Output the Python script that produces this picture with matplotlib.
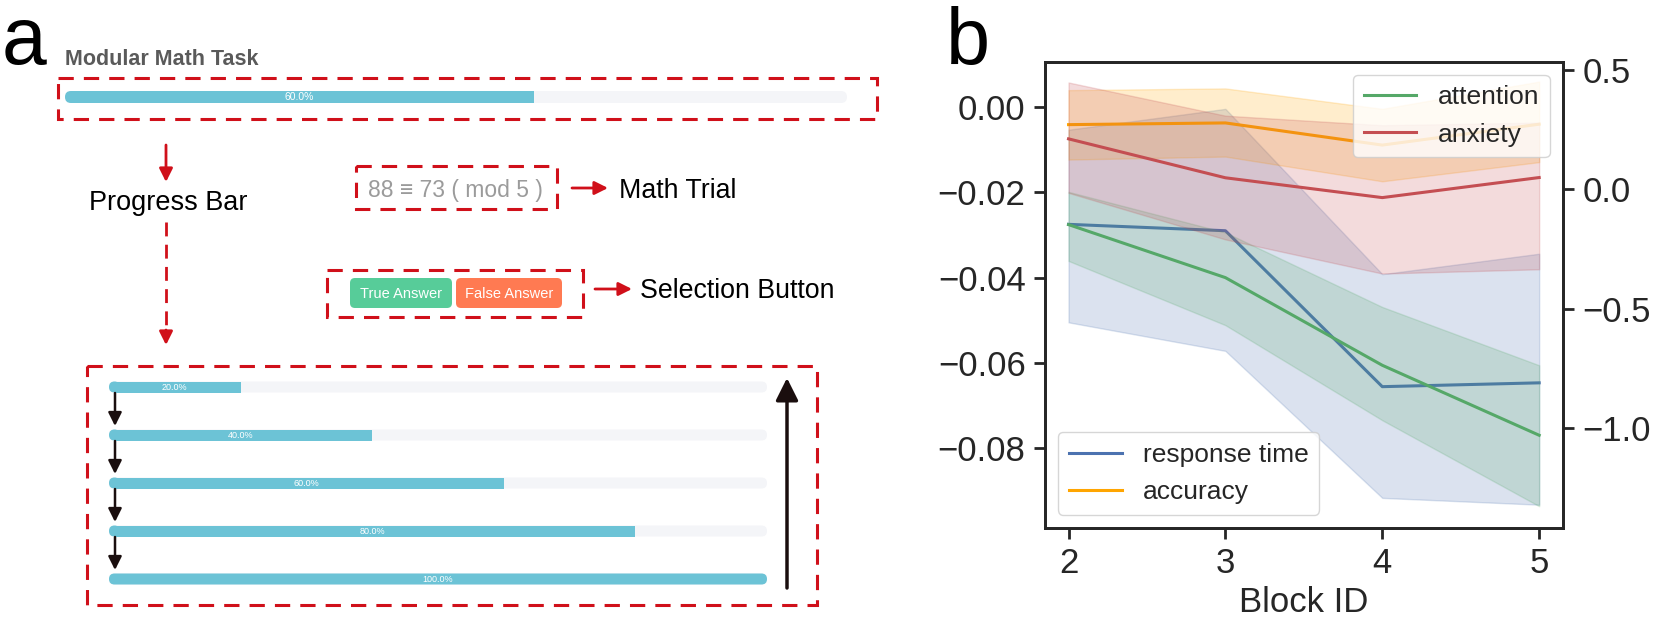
import matplotlib.pyplot as plt
from matplotlib.patches import FancyBboxPatch, Rectangle

plt.rcParams['font.family'] = ['Liberation Sans', 'DejaVu Sans']

# ---- panel b data ----
block_ids = [2, 3, 4, 5]

rt_mean = [-0.0275, -0.0290, -0.0656, -0.0647]
rt_low = [-0.0505, -0.0572, -0.0917, -0.0933]
rt_high = [-0.0053, -0.0004, -0.0392, -0.0344]

acc_mean = [-0.0041, -0.0037, -0.0089, -0.0040]
acc_low = [-0.0123, -0.0116, -0.0174, -0.0129]
acc_high = [0.0040, 0.0044, -0.0004, 0.0060]

att_mean = [-0.147, -0.369, -0.736, -1.029]
att_low = [-0.299, -0.568, -0.966, -1.326]
att_high = [-0.010, -0.180, -0.492, -0.736]

anx_mean = [0.212, 0.049, -0.034, 0.050]
anx_low = [-0.014, -0.209, -0.352, -0.334]
anx_high = [0.448, 0.309, 0.269, 0.280]

# ---- panel a data ----
task_title = 'Modular Math Task'
top_progress = 60
progress_steps = [20, 40, 60, 80, 100]
trial_text = '88 \u2261 73 ( mod 5 )'
button_labels = ['True Answer', 'False Answer']
button_colors = ['#57CC99', '#FF7A52']

RED = '#D0101A'
BAR_FILL = '#6CC3D6'
BAR_BG = '#F4F5F8'

fig = plt.figure(figsize=(16.61, 6.34), dpi=100)

# overlay axes in pixel units for the diagram
da = fig.add_axes([0, 0, 1, 1])
da.set_xlim(0, 1661)
da.set_ylim(634, 0)
da.axis('off')


def progress_bar(x0, y0, w, h, pct, fs):
    r = h / 2
    da.add_patch(FancyBboxPatch((x0, y0), w, h, boxstyle=f'round,pad=0,rounding_size={r}',
                                fc=BAR_BG, ec='none'))
    fw = w * pct / 100
    if pct < 100:
        # rounded left end, square right end
        da.add_patch(FancyBboxPatch((x0, y0), 2 * r, h,
                                    boxstyle=f'round,pad=0,rounding_size={r}',
                                    fc=BAR_FILL, ec='none'))
        da.add_patch(Rectangle((x0 + r, y0), fw - r, h, fc=BAR_FILL, ec='none'))
    else:
        da.add_patch(FancyBboxPatch((x0, y0), fw, h, boxstyle=f'round,pad=0,rounding_size={r}',
                                    fc=BAR_FILL, ec='none'))
    da.text(x0 + fw / 2, y0 + h / 2, f'{pct:.1f}%', color='white', fontsize=fs,
            ha='center', va='center')


def dashed_box(x0, y0, x1, y1):
    da.add_patch(Rectangle((x0, y0), x1 - x0, y1 - y0, fill=False, ec=RED, lw=2.2,
                           ls=(0, (5, 3.3))))


def arrow(x0, y0, x1, y1, color, lw=2, ms=20):
    da.annotate('', xy=(x1, y1), xytext=(x0, y0),
                arrowprops=dict(arrowstyle='-|>', color=color, lw=lw, mutation_scale=ms,
                                shrinkA=0, shrinkB=0))


da.text(2, 64, 'a', fontsize=58, va='baseline')
da.text(946, 64, 'b', fontsize=57, va='baseline')

da.text(65, 65, task_title, fontsize=15.5, fontweight='bold', color='#5A5A5A', va='baseline')
dashed_box(58, 78, 877, 119)
progress_bar(65, 91, 782, 12, top_progress, 7.5)

arrow(166, 145, 166, 182, RED)
da.text(168, 210, 'Progress Bar', fontsize=19.5, ha='center', va='baseline')
da.plot([166, 166], [222, 333], color=RED, lw=2, ls=(0, (5, 3)))
arrow(166, 330, 166, 345, RED)

dashed_box(356, 166, 557, 209)
da.text(455, 197, trial_text, fontsize=16.5, color='#9B9B9B', ha='center', va='baseline')
arrow(572, 188, 608, 188, RED)
da.text(619, 198, 'Math Trial', fontsize=19.3, va='baseline')

dashed_box(327, 270, 583, 317)
bx = [350, 456]
bw = [102, 106]
for x0, w, lab, c in zip(bx, bw, button_labels, button_colors):
    da.add_patch(FancyBboxPatch((x0, 278), w, 30, boxstyle='round,pad=0,rounding_size=5',
                                fc=c, ec='none'))
    da.text(x0 + w / 2, 297.5, lab, color='white', fontsize=10.5, ha='center', va='baseline')
arrow(595, 289, 632, 289, RED)
da.text(640, 298, 'Selection Button', fontsize=19.3, va='baseline')

dashed_box(87, 366, 817, 605)
for i, pct in enumerate(progress_steps):
    yc = 387 + 48 * i
    progress_bar(109, yc - 5.5, 658, 11, pct, 6.5)
    if i < len(progress_steps) - 1:
        arrow(115, yc + 6, 115, yc + 39, '#1A0E0E', lw=1.8, ms=20)
arrow(787, 588, 787, 378, '#1A0E0E', lw=2.5, ms=34)

# ---- panel b ----
ink = '#262626'
ax = fig.add_axes([1045 / 1661, 1 - 527.7 / 634, 517.7 / 1661, 466 / 634])
ax2 = ax.twinx()

ax.plot(block_ids, rt_mean, color='#4C72B0', lw=2.2, label='response time')
ax.fill_between(block_ids, rt_low, rt_high, color='#4C72B0', alpha=0.2)
ax.plot(block_ids, acc_mean, color='orange', lw=2.2, label='accuracy')
ax.fill_between(block_ids, acc_low, acc_high, color='orange', alpha=0.2)

ax2.plot(block_ids, att_mean, color='#55A868', lw=2.2, label='attention')
ax2.fill_between(block_ids, att_low, att_high, color='#55A868', alpha=0.2)
ax2.plot(block_ids, anx_mean, color='#C44E52', lw=2.2, label='anxiety')
ax2.fill_between(block_ids, anx_low, anx_high, color='#C44E52', alpha=0.2)

ax.set_xlim(1.85, 5.15)
ax.set_ylim(-0.0987, 0.01067)
ax2.set_ylim(-1.416, 0.535)
ax.set_xticks(block_ids)
ax.set_yticks([0.0, -0.02, -0.04, -0.06, -0.08])
ax2.set_yticks([0.5, 0.0, -0.5, -1.0])
ax.set_xlabel('Block ID', fontsize=25, color=ink, labelpad=4)

for a in (ax, ax2):
    for s in a.spines.values():
        s.set_linewidth(2.0)
        s.set_color(ink)
    a.tick_params(labelsize=25, length=8, width=2.0, color=ink, labelcolor=ink, pad=6)

leg_kw = dict(fontsize=19, framealpha=0.8, edgecolor='#CCCCCC', handlelength=2.0)
l1 = ax.legend(loc='lower left', **leg_kw)
l2 = ax2.legend(loc='upper right', **leg_kw)
for t in l1.get_texts() + l2.get_texts():
    t.set_color(ink)

fig.savefig('out.png', dpi=100)
